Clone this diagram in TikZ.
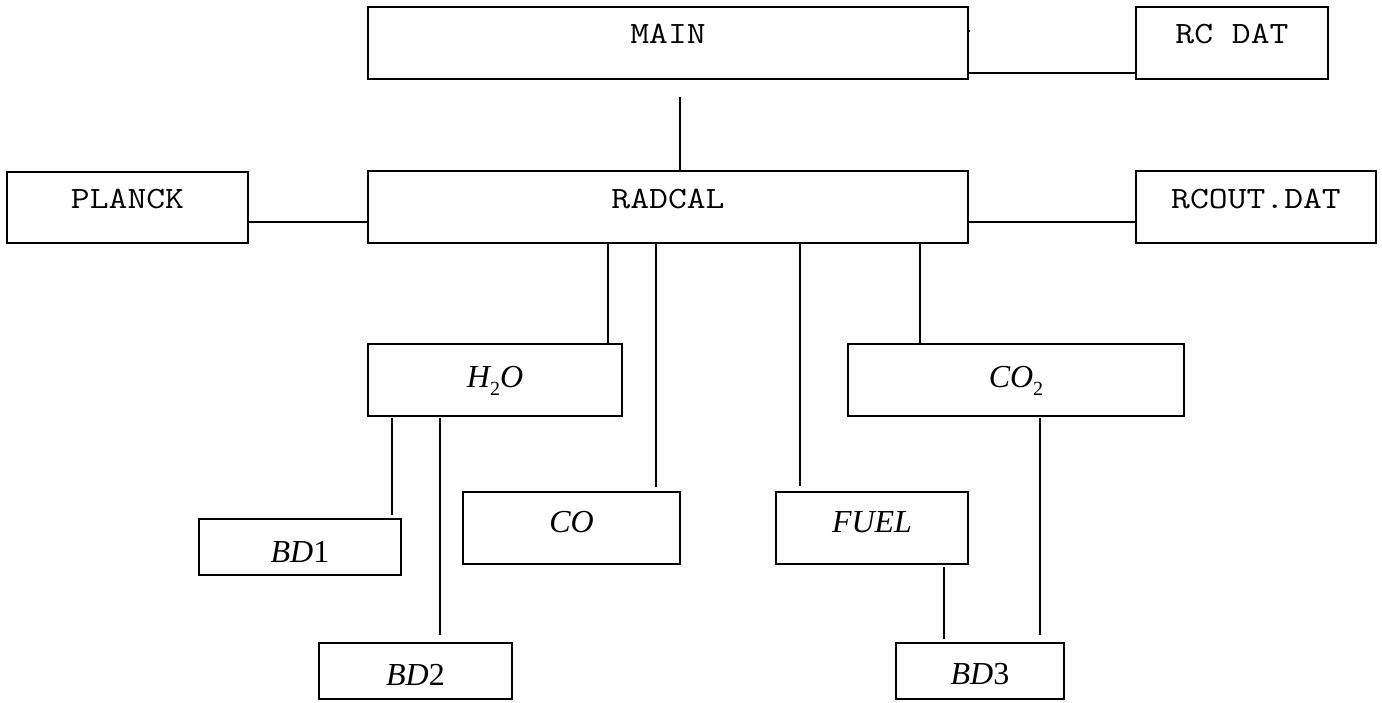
\documentclass[tikz,border=0pt]{standalone}
\usepackage{fontspec}
\usepackage{graphicx}
\usetikzlibrary{calc}
\newfontfamily\serf{Liberation Serif}
\newcommand{\mtxt}[1]{\scalebox{1.18}[1]{#1}}
\tikzset{
  box/.style={draw, line width=0.65pt, inner sep=0pt, outer sep=0pt, anchor=north west},
  mono/.style={font=\ttfamily\fontsize{15.5}{16}\selectfont, inner sep=0pt, anchor=base},
  ital/.style={font=\serf\fontsize{16}{16}\selectfont, inner sep=0pt, anchor=base},
  wire/.style={line width=0.65pt}
}
\newcommand{\subtwo}{\raisebox{-4pt}{\fontsize{10}{10}\selectfont\upshape 2}}
\begin{document}
\begin{tikzpicture}[x=0.5pt,y=-0.5pt]
\useasboundingbox (0,0) rectangle (1382,702);
% boxes
\node[box, minimum width=300pt, minimum height=36pt] (main) at (368,7) {};
\node[box, minimum width=96pt, minimum height=36pt] (rcdat) at (1136,7) {};
\node[box, minimum width=120.5pt, minimum height=35.5pt] (planck) at (7,172) {};
\node[box, minimum width=300pt, minimum height=36pt] (radcal) at (368,171) {};
\node[box, minimum width=120pt, minimum height=36pt] (rcout) at (1136,171) {};
\node[box, minimum width=127pt, minimum height=36pt] (h2o) at (368,344) {};
\node[box, minimum width=168pt, minimum height=36pt] (co2) at (848,344) {};
\node[box, minimum width=108.5pt, minimum height=36pt] (co) at (463,492) {};
\node[box, minimum width=96pt, minimum height=36pt] (fuel) at (776,492) {};
\node[box, minimum width=101pt, minimum height=28pt] (bd1) at (199,519) {};
\node[box, minimum width=96.5pt, minimum height=28pt] (bd2) at (319,643) {};
\node[box, minimum width=84pt, minimum height=28pt] (bd3) at (896,643) {};
% labels
\node[mono] (mainT) at ([yshift=-18pt]main.north) {\mtxt{MAIN}};
\node[mono] (rcdatT) at ([yshift=-18pt]rcdat.north) {\mtxt{RC DAT}};
\node[mono] (planckT) at ([yshift=-18pt]planck.north) {\mtxt{PLANCK}};
\node[mono] (radcalT) at ([yshift=-18.5pt]radcal.north) {\mtxt{RADCAL}};
\node[mono] (rcoutT) at ([yshift=-18.5pt]rcout.north) {\mtxt{RCOUT.DAT}};
\node[ital] (h2oT) at ([yshift=-21.5pt]h2o.north) {\itshape H\subtwo O};
\node[ital] (co2T) at ([yshift=-21.5pt]co2.north) {\itshape CO\subtwo};
\node[ital] (coT) at ([yshift=-20pt]co.north) {\itshape CO};
\node[ital] (fuelT) at ([yshift=-20pt]fuel.north) {\itshape FUEL};
\node[ital] (bd1T) at ([yshift=-21.5pt]bd1.north) {{\itshape BD}1};
\node[ital] (bd2T) at ([yshift=-21pt]bd2.north) {{\itshape BD}2};
\node[ital] (bd3T) at ([yshift=-20.5pt]bd3.north) {{\itshape BD}3};
% x positions of vertical connectors
\coordinate (xM) at (680,0);
\coordinate (xA) at (608,0);
\coordinate (xB) at (656,0);
\coordinate (xC) at (800,0);
\coordinate (xD) at (920,0);
\coordinate (xE) at (392,0);
\coordinate (xF) at (440,0);
\coordinate (xG) at (944,0);
\coordinate (xH) at (1040,0);
% connectors
\draw[wire] ($(main.south -| xM)+(0,18)$) -- (radcal.north -| xM);
\draw[wire] ($(main.south east)+(0,-6)$) -- ($(main.south east -| rcdat.west)+(0,-6)$);
\draw[wire] ($(main.north east)+(0,24)$) -- ++(2,0);
\draw[wire] ($(planck.south east)+(0,-21)$) -- ($(planck.south east -| radcal.west)+(0,-21)$);
\draw[wire] ($(radcal.south east)+(0,-21)$) -- ($(radcal.south east -| rcout.west)+(0,-21)$);
\draw[wire] (radcal.south -| xA) -- (h2o.north -| xA);
\draw[wire] (radcal.south -| xB) -- ($(co.north -| xB)+(0,-5)$);
\draw[wire] (radcal.south -| xC) -- ($(fuel.north -| xC)+(0,-6)$);
\draw[wire] (radcal.south -| xD) -- (co2.north -| xD);
\draw[wire] ($(h2o.south -| xE)+(0,2)$) -- ($(bd1.north -| xE)+(0,-4)$);
\draw[wire] ($(h2o.south -| xF)+(0,2)$) -- ($(bd2.north -| xF)+(0,-8)$);
\draw[wire] ($(fuel.south -| xG)+(0,3)$) -- ($(bd3.north -| xG)+(0,-4)$);
\draw[wire] ($(co2.south -| xH)+(0,2)$) -- ($(bd3.north -| xH)+(0,-8)$);
\end{tikzpicture}
\end{document}
